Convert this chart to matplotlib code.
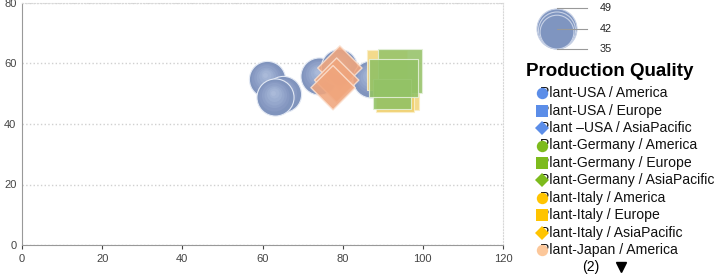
import matplotlib
matplotlib.use("Agg")
import matplotlib.pyplot as plt
from matplotlib.patches import Circle
from matplotlib.path import Path

plt.rcParams["font.family"] = ["Liberation Sans", "DejaVu Sans"]

# ── data ─────────────────────────────────────────────────────────────────────
LEGEND_TITLE = "Production Quality"
SERIES_NAMES = [
    "Plant-USA / America", "Plant-USA / Europe", "Plant \u2013USA / AsiaPacific",
    "Plant-Germany / America", "Plant-Germany / Europe", "Plant-Germany / AsiaPacific",
    "Plant-Italy / America", "Plant-Italy / Europe", "Plant-Italy / AsiaPacific",
    "Plant-Japan / America",
]
LEGEND_MARKERS = ["o", "s", "D"] * 3 + ["o"]
LEGEND_COLORS = ["#5b8de8"] * 3 + ["#7dbb1d"] * 3 + ["#ffc400"] * 3 + ["#fcc79a"]

# chart groups (x, y, bubble size)
usa_x = [61, 65, 63, 74, 79, 87]
usa_y = [55, 50, 49, 56, 59, 55]
usa_s = [40, 40, 42, 42, 40, 42]

# Italy: two square marks + one wide mark
italy_x = [91.0, 95.3]
italy_y = [57.8, 49.5]
italy_s = [32, 18]
italy_wide_x = [93.1]
italy_wide_y = [48.8]
italy_wide_s = [30]

# Germany: one square mark + two wide marks
germany_x = [94.3]
germany_y = [57.5]
germany_s = [39]
germany_wide_x = [92.3, 92.6]
germany_wide_y = [49.8, 55.1]
germany_wide_s = [29, 48]

japan_x = [79.3, 78.5, 77.6]
japan_y = [58.5, 54.5, 52]
japan_s = [40, 40, 40]

SIZE_TICKS = [49, 42, 35]
PAGE_TEXT = "(2)"

# ── figure ───────────────────────────────────────────────────────────────────
W, H = 720, 275
fig = plt.figure(figsize=(W / 100, H / 100), dpi=100)
ax = fig.add_axes([22 / W, 30 / H, 481 / W, 242 / H])

K = 17.0     # area per size unit for circles / diamonds (pt^2)
K_SQ = 26.0  # area per size unit for square marks
wide = Path([(-0.5, -0.39), (0.5, -0.39), (0.5, 0.39), (-0.5, 0.39), (-0.5, -0.39)])

# blue spheres: base + lighter layers for shading
shade = ["#8094bd", "#8799c2", "#8ea0c7", "#95a7cc", "#9caed1", "#a3b4d5", "#aabad9"]
for x, y, s in zip(usa_x, usa_y, usa_s):
    ax.scatter([x], [y], s=[s * K], color=shade[0], edgecolor="#e3e9f4",
               linewidth=0.8, zorder=2)
    for i, c in enumerate(shade[1:], start=1):
        f = 1 - i / len(shade)
        ax.scatter([x - 0.3 * i / 6], [y + 1.3 * i / 6], s=[s * K * f ** 2 * 0.9],
                   color=c, linewidth=0, zorder=2)

ax.scatter(japan_x, japan_y, s=[v * K * 0.75 for v in japan_s], marker="D",
           color="#f0a57c", edgecolor="#fbe0cf", linewidth=1.0, alpha=0.88, zorder=3)

sq_kw = dict(linewidth=0.8, alpha=0.9)
ax.scatter(italy_x, italy_y, s=[v * K_SQ for v in italy_s], marker="s",
           color="#f2d680", edgecolor="#fbefc8", zorder=3, **sq_kw)
ax.scatter(italy_wide_x, italy_wide_y, s=[v * K_SQ for v in italy_wide_s], marker=wide,
           color="#f0cf6a", edgecolor="#fbefc8", zorder=3, **sq_kw)
ax.scatter(germany_x, germany_y, s=[v * K_SQ for v in germany_s], marker="s",
           color="#98c46c", edgecolor="#e4f0d8", zorder=4, **sq_kw)
ax.scatter(germany_wide_x, germany_wide_y, s=[v * K_SQ for v in germany_wide_s],
           marker=wide, color="#93c266", edgecolor="#e4f0d8", zorder=4, **sq_kw)

ax.set_xlim(0, 120)
ax.set_ylim(0, 80)
ax.set_xticks(range(0, 121, 20))
ax.set_yticks(range(0, 81, 20))
ax.tick_params(labelsize=8, colors="#444444", length=3, width=0.8)
ax.tick_params(axis="y", length=0, pad=4)
ax.grid(axis="y", color="#d0d0d0", linestyle=":", linewidth=1.0)
for side in ("left", "bottom"):
    ax.spines[side].set_color("#999999")
for side in ("top", "right"):
    ax.spines[side].set_color("#d8d8d8")
    ax.spines[side].set_linestyle(":")

# ── bubble size legend ───────────────────────────────────────────────────────
sax = fig.add_axes([0, 0, 1, 1], zorder=-1)
sax.set_xlim(0, W)
sax.set_ylim(H, 0)
sax.axis("off")
d_max = 40.0
cx, bottom = 557, 49
line_y = [8, 29, 49]
for v, ly in zip(SIZE_TICKS, line_y):
    r = d_max / 2 * (v / SIZE_TICKS[0]) ** 0.5
    sax.add_patch(Circle((cx, bottom - r), r, facecolor="#7f95c0",
                         edgecolor="#c8d2e6", linewidth=0.8))
    sax.plot([cx, 587], [ly, ly], color="#999999", linewidth=0.8)
    sax.text(600, ly, str(v), fontsize=7.8, va="center", ha="left", color="#222222")

# ── series legend ────────────────────────────────────────────────────────────
sax.text(526, 72, LEGEND_TITLE, fontsize=13.5, fontweight="bold", va="center", ha="left")
row_y = [93.3 + i * 17.4 for i in range(len(SERIES_NAMES))]
for name, m, c, ry in zip(SERIES_NAMES, LEGEND_MARKERS, LEGEND_COLORS, row_y):
    sax.text(540, ry, name, fontsize=10.1, va="center", ha="left", color="#111111",
             zorder=3)
    sax.plot([542], [ry], marker=m, markersize=8.2 if m != "D" else 7.6,
             color=c, markeredgewidth=0, zorder=5)
sax.text(582, 267, PAGE_TEXT, fontsize=10.1, va="center", ha="left")
sax.plot([621], [267], marker="v", markersize=7, color="black")

fig.savefig("out.png", dpi=100)
